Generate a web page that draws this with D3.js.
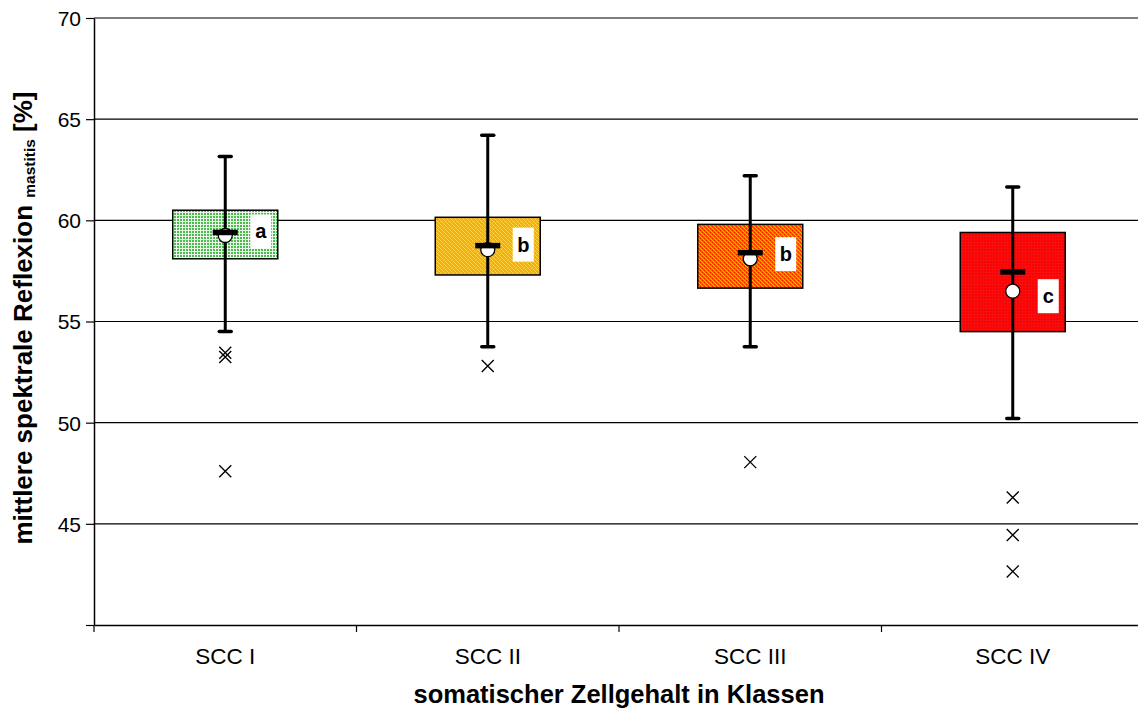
<!DOCTYPE html>
<html>
<head>
<meta charset="utf-8">
<script src="https://cdn.jsdelivr.net/npm/d3@7"></script>
<style>
  html, body { margin: 0; padding: 0; background: #fff; }
  svg { display: block; }
  text { font-family: "Liberation Sans", Arial, sans-serif; }
</style>
</head>
<body>
<svg id="chart" width="1138" height="709"></svg>
<script>
const categories = ["SCC I", "SCC II", "SCC III", "SCC IV"];
const boxLow = [58.1, 57.3, 56.65, 54.5];
const boxHigh = [60.5, 60.15, 59.8, 59.4];
const whiskerLow = [54.5, 53.75, 53.75, 50.2];
const whiskerHigh = [63.15, 64.2, 62.2, 61.65];
const medians = [59.4, 58.75, 58.4, 57.45];
const means = [59.25, 58.55, 58.1, 56.5];
const outliers = [[53.45, 53.25, 47.6], [52.8], [48.05], [46.3, 44.45, 42.65]];
const letters = ["a", "b", "b", "c"];
const letterPos = [59.45, 58.8, 58.33, 56.25];
const yTicks = [40, 45, 50, 55, 60, 65, 70];
const yTickLabels = ["", "45", "50", "55", "60", "65", "70"];
const xTitle = "somatischer Zellgehalt in Klassen";

(function () {
const svg = d3.select("#chart");
const mLeft = 94, mRight = 1144, mTop = 18, mBottom = 625;

const x = d3.scaleBand().domain(categories).range([mLeft, mRight]);
const y = d3.scaleLinear().domain([40, 70]).range([mBottom, mTop]);

// patterns
const defs = svg.append("defs");
function pat(id, w, h, bg, cells) {
  const p = defs.append("pattern").attr("id", id).attr("patternUnits", "userSpaceOnUse")
    .attr("width", w).attr("height", h);
  p.append("rect").attr("width", w).attr("height", h).attr("fill", bg);
  cells.forEach(c => p.append("rect").attr("x", c[0]).attr("y", c[1]).attr("width", c[2]).attr("height", c[3]).attr("fill", c[4]));
}
pat("pg", 3, 3, "#4cba4c", [[2, 0, 1, 3, "#e8f7e8"], [0, 2, 3, 1, "#e8f7e8"]]);
pat("po", 4, 4, "#ffa800", [[0, 0, 1, 1, "#ffd84a"], [1, 1, 1, 1, "#ffd84a"], [2, 2, 1, 1, "#ffd84a"], [3, 3, 1, 1, "#ffd84a"], [2, 0, 1, 1, "#ffbc20"], [0, 2, 1, 1, "#ffbc20"]]);
pat("pr", 4, 4, "#ff5a00", [[0, 0, 1, 1, "#ffb000"], [1, 1, 1, 1, "#ffb000"], [2, 2, 1, 1, "#ffb000"], [3, 3, 1, 1, "#ffb000"], [2, 0, 1, 1, "#ff1a00"], [0, 2, 1, 1, "#ff1a00"]]);
pat("pd", 3, 3, "#ff0000", [[2, 0, 1, 3, "#f21010"], [0, 2, 3, 1, "#f21010"]]);
const fills = ["url(#pg)", "url(#po)", "url(#pr)", "url(#pd)"];

// gridlines
svg.append("g").selectAll("line").data(yTicks.filter(d => d > 40)).join("line")
  .attr("x1", mLeft).attr("x2", mRight)
  .attr("y1", d => y(d)).attr("y2", d => y(d))
  .attr("stroke", "#000").attr("stroke-width", 1.2);

// y axis
const yAxis = svg.append("g").attr("transform", `translate(${mLeft},0)`)
  .call(d3.axisLeft(y).tickValues(yTicks).tickFormat((d, i) => yTickLabels[i]).tickSize(8).tickSizeOuter(0));
yAxis.select(".domain").attr("stroke-width", 1.5);
yAxis.selectAll(".tick line").attr("stroke-width", 1.2);
yAxis.selectAll("text").attr("font-size", 21).attr("fill", "#000").attr("dx", -2).attr("dy", "0.35em")
  .style("font-family", "Liberation Sans, Arial, sans-serif");

// x axis
const xAxis = svg.append("g").attr("transform", `translate(0,${mBottom})`)
  .call(d3.axisBottom(x).tickSize(0).tickSizeOuter(0));
xAxis.select(".domain").attr("stroke-width", 1.5);
xAxis.selectAll("text").attr("font-size", 22.5).attr("fill", "#000").attr("y", 0).attr("dy", 39)
  .style("font-family", "Liberation Sans, Arial, sans-serif");
// category separators
const seps = categories.map(c => x(c));
svg.append("g").selectAll("line").data(seps).join("line")
  .attr("x1", d => d).attr("x2", d => d).attr("y1", mBottom).attr("y2", mBottom + 7)
  .attr("stroke", "#000").attr("stroke-width", 1.2);

// boxes
const bw = x.bandwidth() * 0.4;
const g = svg.append("g");
categories.forEach((c, i) => {
  const cx = x(c) + x.bandwidth() / 2;
  g.append("rect").attr("x", cx - bw / 2).attr("y", y(boxHigh[i]))
    .attr("width", bw).attr("height", y(boxLow[i]) - y(boxHigh[i]))
    .attr("fill", fills[i]).attr("stroke", "#000").attr("stroke-width", 1.5);
});
// letter labels
categories.forEach((c, i) => {
  const cx = x(c) + x.bandwidth() / 2;
  const lx = cx + 25;
  g.append("rect").attr("x", lx).attr("y", y(letterPos[i]) - 17).attr("width", 21).attr("height", 34).attr("fill", "#fff");
  g.append("text").attr("x", lx + 10.5).attr("y", y(letterPos[i]) + 7).attr("text-anchor", "middle")
    .attr("font-size", 20).attr("font-weight", "bold").text(letters[i]);
});
// whiskers, circles, mean bars
categories.forEach((c, i) => {
  const cx = x(c) + x.bandwidth() / 2;
  g.append("line").attr("x1", cx).attr("x2", cx).attr("y1", y(whiskerHigh[i])).attr("y2", y(whiskerLow[i]))
    .attr("stroke", "#000").attr("stroke-width", 3);
  [whiskerHigh[i], whiskerLow[i]].forEach(v => {
    g.append("line").attr("x1", cx - 6).attr("x2", cx + 6).attr("y1", y(v)).attr("y2", y(v))
      .attr("stroke", "#000").attr("stroke-width", 3.5).attr("stroke-linecap", "round");
  });
  g.append("circle").attr("cx", cx).attr("cy", y(means[i])).attr("r", 7)
    .attr("fill", "#fff").attr("stroke", "#000").attr("stroke-width", 1.3);
  g.append("rect").attr("x", cx - 12.5).attr("y", y(medians[i]) - 2.75).attr("width", 25).attr("height", 5.5).attr("fill", "#000");
  outliers[i].forEach(v => {
    const yy = y(v), s = 6;
    g.append("path").attr("d", `M${cx - s},${yy - s}L${cx + s},${yy + s}M${cx - s},${yy + s}L${cx + s},${yy - s}`)
      .attr("stroke", "#000").attr("stroke-width", 1.4).attr("fill", "none");
  });
});

// axis titles
svg.append("text").attr("x", 619).attr("y", 703).attr("text-anchor", "middle")
  .attr("font-size", 25.5).attr("font-weight", "bold").text(xTitle);
const yt = svg.append("text").attr("transform", "translate(32,318) rotate(-90)").attr("text-anchor", "middle")
  .attr("font-size", 26).attr("font-weight", "bold");
yt.append("tspan").text("mittlere spektrale Reflexion ");
yt.append("tspan").attr("font-size", 15.5).attr("dy", 3).text("mastitis");
yt.append("tspan").attr("dy", -3).text(" [%]");
})();
</script>
</body>
</html>
